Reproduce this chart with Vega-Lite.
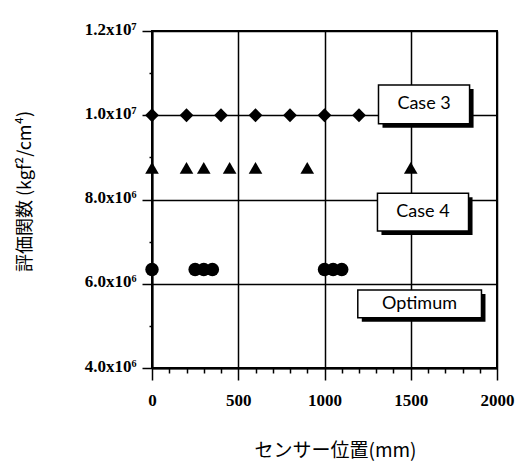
{
  "$schema": "https://vega.github.io/schema/vega-lite/v6.json",
  "width": 345,
  "height": 337,
  "autosize": "none",
  "padding": {"left": 152, "top": 31, "right": 20, "bottom": 93},
  "background": "white",
  "config": {
    "view": {"stroke": "black", "strokeWidth": 2}
  },
  "datasets": {
    "points": [
      {"series": "Case 3", "x": 0, "y": 10000000},
      {"series": "Case 3", "x": 200, "y": 10000000},
      {"series": "Case 3", "x": 400, "y": 10000000},
      {"series": "Case 3", "x": 600, "y": 10000000},
      {"series": "Case 3", "x": 800, "y": 10000000},
      {"series": "Case 3", "x": 1000, "y": 10000000},
      {"series": "Case 3", "x": 1200, "y": 10000000},
      {"series": "Case 4", "x": 0, "y": 8750000},
      {"series": "Case 4", "x": 200, "y": 8750000},
      {"series": "Case 4", "x": 300, "y": 8750000},
      {"series": "Case 4", "x": 450, "y": 8750000},
      {"series": "Case 4", "x": 600, "y": 8750000},
      {"series": "Case 4", "x": 900, "y": 8750000},
      {"series": "Case 4", "x": 1500, "y": 8750000},
      {"series": "Optimum", "x": 0, "y": 6340000},
      {"series": "Optimum", "x": 250, "y": 6340000},
      {"series": "Optimum", "x": 300, "y": 6340000},
      {"series": "Optimum", "x": 350, "y": 6340000},
      {"series": "Optimum", "x": 1000, "y": 6340000},
      {"series": "Optimum", "x": 1050, "y": 6340000},
      {"series": "Optimum", "x": 1100, "y": 6340000}
    ],
    "boxes": [
      {"label": "Case 3", "x": 1313, "x2": 1841, "y": 10720000, "y2": 9800000, "cx": 1577, "cy": 10260000},
      {"label": "Case 4", "x": 1307, "x2": 1835, "y": 8150000, "y2": 7250000, "cx": 1571, "cy": 7700000},
      {"label": "Optimum", "x": 1193, "x2": 1910, "y": 5850000, "y2": 5190000, "cx": 1551, "cy": 5520000}
    ]
  },
  "encoding": {
    "x": {
      "field": "x", "type": "quantitative",
      "scale": {"domain": [0, 2000], "nice": false, "zero": false},
      "axis": {
        "values": [0,100,200,300,400,500,600,700,800,900,1000,1100,1200,1300,1400,1500,1600,1700,1800,1900,2000],
        "labelExpr": "datum.value % 500 === 0 ? format(datum.value, 'd') : ''",
        "labelOverlap": false,
        "labelFlush": false,
        "grid": true,
        "gridColor": "black",
        "gridWidth": 1.5,
        "gridOpacity": {"condition": {"test": "datum.value % 500 === 0", "value": 1}, "value": 0},
        "tickSize": {"condition": {"test": "datum.value % 500 === 0", "value": 12}, "value": 5},
        "tickColor": "black",
        "tickWidth": 1.5,
        "domainColor": "black",
        "domainWidth": 2,
        "labelFont": "Liberation Serif",
        "labelFontSize": 17,
        "labelFontWeight": "bold",
        "labelColor": "black",
        "labelPadding": 12,
        "title": "センサー位置(mm)",
        "titleFont": "Noto Sans CJK JP",
        "titleFontSize": 19,
        "titleFontWeight": "normal",
        "titleColor": "black",
        "titleX": 183,
        "titleY": 82,
        "titleBaseline": "middle",
        "titleAnchor": "middle"
      }
    },
    "y": {
      "field": "y", "type": "quantitative",
      "scale": {"domain": [4000000, 12000000], "nice": false, "zero": false},
      "axis": {
        "values": [4000000,5000000,6000000,7000000,8000000,9000000,10000000,11000000,12000000],
        "labelExpr": "datum.value % 2000000 === 0 ? (datum.value >= 10000000 ? format(datum.value/10000000, '.1f') + 'x10⁷' : format(datum.value/1000000, '.1f') + 'x10⁶') : ''",
        "labelOverlap": false,
        "labelFlush": false,
        "grid": true,
        "gridColor": "black",
        "gridWidth": 1.5,
        "gridOpacity": {"condition": {"test": "datum.value % 2000000 === 0", "value": 1}, "value": 0},
        "tickSize": {"condition": {"test": "datum.value % 2000000 === 0", "value": 10}, "value": 3},
        "tickColor": "black",
        "tickWidth": 1.5,
        "domainColor": "black",
        "domainWidth": 2,
        "labelFont": "Liberation Serif",
        "labelFontSize": 17,
        "labelFontWeight": "bold",
        "labelColor": "black",
        "labelPadding": 6,
        "labelOffset": -2,
        "title": "評価関数  (kgf²/cm⁴)",
        "titleFont": "Noto Sans CJK JP",
        "titleFontSize": 18,
        "titleFontWeight": "normal",
        "titleColor": "black",
        "titleAngle": -90,
        "titleX": -127,
        "titleY": 160,
        "titleBaseline": "middle",
        "titleAnchor": "middle"
      }
    }
  },
  "layer": [
    {
      "data": {"name": "points"},
      "mark": {"type": "point", "filled": true, "color": "black", "opacity": 1},
      "encoding": {
        "shape": {
          "field": "series", "type": "nominal",
          "scale": {"domain": ["Case 3", "Case 4", "Optimum"], "range": ["diamond", "triangle-up", "circle"]},
          "legend": null
        },
        "size": {
          "field": "series", "type": "ordinal",
          "scale": {"domain": ["Case 3", "Case 4", "Optimum"], "range": [190, 180, 200]},
          "legend": null
        }
      }
    },
    {
      "data": {"name": "boxes"},
      "mark": {"type": "rect", "color": "black", "xOffset": 4, "x2Offset": 4, "yOffset": 4, "y2Offset": 4},
      "encoding": {
        "x2": {"field": "x2"},
        "y2": {"field": "y2"}
      }
    },
    {
      "data": {"name": "boxes"},
      "mark": {"type": "rect", "fill": "white", "stroke": "black", "strokeWidth": 1.5},
      "encoding": {
        "x2": {"field": "x2"},
        "y2": {"field": "y2"}
      }
    },
    {
      "data": {"name": "boxes"},
      "mark": {"type": "text", "font": "Lato", "fontSize": 18, "color": "black", "align": "center", "baseline": "middle", "dx": 0},
      "encoding": {
        "text": {"field": "label"},
        "x": {
          "field": "cx", "type": "quantitative",
          "scale": {"domain": [0, 2000], "nice": false, "zero": false},
          "axis": {
            "values": [0,100,200,300,400,500,600,700,800,900,1000,1100,1200,1300,1400,1500,1600,1700,1800,1900,2000],
            "labelExpr": "datum.value % 500 === 0 ? format(datum.value, 'd') : ''",
            "labelOverlap": false,
            "labelFlush": false,
            "grid": true,
            "gridColor": "black",
            "gridWidth": 1.5,
            "gridOpacity": {"condition": {"test": "datum.value % 500 === 0", "value": 1}, "value": 0},
            "tickSize": {"condition": {"test": "datum.value % 500 === 0", "value": 12}, "value": 5},
            "tickColor": "black",
            "tickWidth": 1.5,
            "domainColor": "black",
            "domainWidth": 2,
            "labelFont": "Liberation Serif",
            "labelFontSize": 17,
            "labelFontWeight": "bold",
            "labelColor": "black",
            "labelPadding": 12,
            "title": "センサー位置(mm)",
            "titleFont": "Noto Sans CJK JP",
            "titleFontSize": 19,
            "titleFontWeight": "normal",
            "titleColor": "black",
            "titleX": 183,
            "titleY": 82,
            "titleBaseline": "middle",
            "titleAnchor": "middle"
          }
        },
        "y": {
          "field": "cy", "type": "quantitative",
          "scale": {"domain": [4000000, 12000000], "nice": false, "zero": false},
          "axis": {
            "values": [4000000,5000000,6000000,7000000,8000000,9000000,10000000,11000000,12000000],
            "labelExpr": "datum.value % 2000000 === 0 ? (datum.value >= 10000000 ? format(datum.value/10000000, '.1f') + 'x10⁷' : format(datum.value/1000000, '.1f') + 'x10⁶') : ''",
            "labelOverlap": false,
            "labelFlush": false,
            "grid": true,
            "gridColor": "black",
            "gridWidth": 1.5,
            "gridOpacity": {"condition": {"test": "datum.value % 2000000 === 0", "value": 1}, "value": 0},
            "tickSize": {"condition": {"test": "datum.value % 2000000 === 0", "value": 10}, "value": 3},
            "tickColor": "black",
            "tickWidth": 1.5,
            "domainColor": "black",
            "domainWidth": 2,
            "labelFont": "Liberation Serif",
            "labelFontSize": 17,
            "labelFontWeight": "bold",
            "labelColor": "black",
            "labelPadding": 6,
            "labelOffset": -2,
            "title": "評価関数  (kgf²/cm⁴)",
            "titleFont": "Noto Sans CJK JP",
            "titleFontSize": 18,
            "titleFontWeight": "normal",
            "titleColor": "black",
            "titleAngle": -90,
            "titleX": -127,
            "titleY": 160,
            "titleBaseline": "middle",
            "titleAnchor": "middle"
          }
        }
      }
    }
  ]
}
